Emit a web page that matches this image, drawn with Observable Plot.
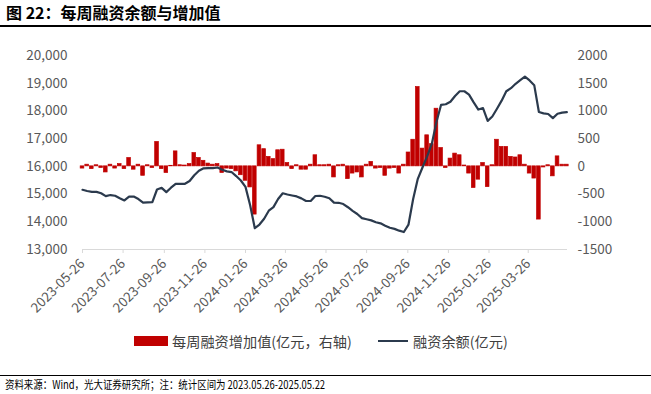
<!DOCTYPE html>
<html><head><meta charset="utf-8">
<script src="https://cdn.jsdelivr.net/npm/d3@7"></script>
<script src="https://cdn.jsdelivr.net/npm/@observablehq/plot@0.6"></script>
<style>
body{margin:0;width:651px;height:394px;position:relative;font-family:"Noto Sans CJK SC","Noto Sans",sans-serif;background:#fff;overflow:hidden}
#title{position:absolute;left:6px;top:3px;font-size:16px;line-height:19px;font-weight:bold;color:#000}
#tline{position:absolute;left:0;top:25px;width:651px;height:2px;background:#000}
#chart{position:absolute;left:0;top:28px}
.lg{position:absolute;font-size:14.2px;line-height:16px;color:#404040;white-space:nowrap}
#fline{position:absolute;left:0;top:375px;width:651px;height:1px;background:#000}
#foot{position:absolute;left:5px;top:377px;font-size:11.5px;line-height:15px;color:#000;white-space:nowrap;transform:scaleX(0.82);transform-origin:0 0}
</style></head>
<body>
<div id="title">图 22：每周融资余额与增加值</div>
<div id="tline"></div>
<div id="chart"></div>
<div style="position:absolute;left:134px;top:336px;width:34px;height:10px;background:#c00000"></div>
<div class="lg" style="left:172px;top:333px">每周融资增加值(亿元，右轴)</div>
<div style="position:absolute;left:378px;top:340px;width:30px;height:2px;background:#2b3a4d"></div>
<div class="lg" style="left:413px;top:333px">融资余额(亿元)</div>
<div id="fline"></div>
<div id="foot">资料来源：Wind，光大证券研究所；注：统计区间为 2023.05.26-2025.05.22</div>
<script>
// weekly financing balance (亿元, left axis)
const balance = [15155,15110,15080,15080,15030,14925,14965,14940,14850,14770,
14910,14910,14820,14690,14700,14710,15165,15225,15070,15230,
15370,15370,15370,15470,15680,15840,15930,15935,15935,15960,
15880,15820,15795,15650,15490,15260,14600,13770,13900,14110,
14400,14530,14820,15030,14985,14950,14915,14845,14750,14750,
14930,14940,14905,14850,14690,14685,14640,14525,14395,14280,
14130,14090,14050,13985,13945,13860,13785,13745,13680,13630,
13900,14820,15550,15960,16360,16810,17600,18220,18240,18330,
18540,18710,18710,18590,18310,18050,18100,17640,17800,18080,
18370,18710,18820,18980,19110,19240,19100,18930,17960,17910,
17890,17740,17900,17940,17960];
// weekly financing increase (亿元, right axis)
const change = [-40,30,-50,20,-30,-110,30,-40,40,-50,
150,-60,30,-170,20,-30,440,-50,-120,10,
270,20,15,40,240,150,100,50,30,40,
-120,-40,-50,-90,-160,-260,-380,-870,380,310,
170,130,290,300,60,-50,20,-60,-60,30,
200,20,20,30,-200,20,30,-230,-130,-110,
-200,30,80,-40,-30,-170,-40,-30,-130,30,
250,480,1430,320,560,400,1040,330,-30,140,
230,200,15,-130,-390,-240,60,-375,20,480,
350,350,170,160,200,30,-130,-220,-960,-20,
20,-180,180,30,30];
const firstWeek = "2023-05-26";
const lastDay = "2025-05-24";
const tickLabels = ["2023-05-26","2023-07-26","2023-09-26","2023-11-26","2024-01-26","2024-03-26","2024-05-26","2024-07-26","2024-09-26","2024-11-26","2025-01-26","2025-03-26"];
const leftTicks = [13000,14000,15000,16000,17000,18000,19000,20000];

const start = new Date(firstWeek + "T00:00:00Z");
const rows = balance.map((b, i) => ({date: d3.utcDay.offset(start, 7 * i), balance: b, change: change[i]}));
const toLeft = v => 16000 + 2 * v; // right axis (-1500..2000) onto left (13000..20000)
const font = '"Noto Sans CJK SC","Noto Sans",sans-serif';

const chart = Plot.plot({
  width: 651, height: 300,
  marginTop: 27, marginBottom: 79, marginLeft: 82, marginRight: 84,
  style: {fontFamily: font, fontSize: "13.5px", background: "transparent", overflow: "visible"},
  x: {type: "utc", domain: [start, new Date(lastDay + "T00:00:00Z")]},
  y: {domain: [13000, 20000]},
  marks: [
    Plot.axisY({ticks: leftTicks, tickFormat: d3.format(","), tickSize: 0, tickPadding: 15, label: null, fill: "#595959", fontSize: 13.5}),
    Plot.axisY({anchor: "right", ticks: leftTicks, tickFormat: d => String((d - 16000) / 2), tickSize: 0, tickPadding: 10, label: null, fill: "#595959", fontSize: 13.5}),
    Plot.ruleY([13000], {stroke: "#d9d9d9", strokeWidth: 1}),
    Plot.axisX({ticks: tickLabels.map(s => new Date(s + "T00:00:00Z")), tickFormat: d3.utcFormat("%Y-%m-%d"), tickRotate: -45, tickSize: 4, stroke: "#d9d9d9", fill: "#595959", label: null, fontSize: 13.5}),
    Plot.rect(rows, {
      x1: d => d3.utcHour.offset(d.date, -66),
      x2: d => d3.utcHour.offset(d.date, 66),
      y1: () => 16000,
      y2: d => toLeft(d.change),
      fill: "#c00000", stroke: "#c00000", strokeWidth: 0.7
    }),
    Plot.line(rows, {x: "date", y: "balance", stroke: "#2b3a4d", strokeWidth: 2.2, strokeLinejoin: "round"})
  ]
});
document.getElementById("chart").appendChild(chart);
</script>
</body></html>
